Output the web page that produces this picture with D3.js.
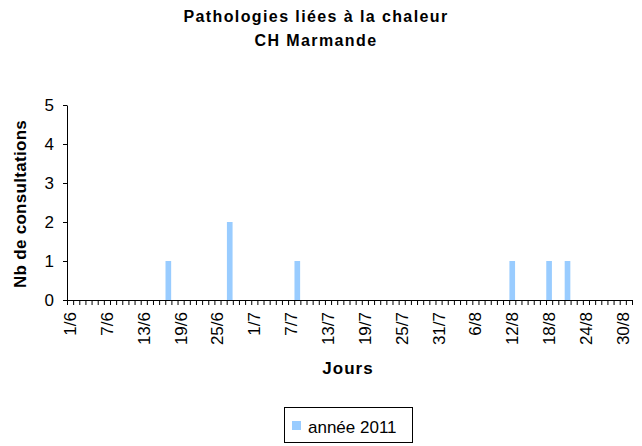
<!DOCTYPE html>
<html>
<head>
<meta charset="utf-8">
<script src="https://cdn.jsdelivr.net/npm/d3@7"></script>
<style>
  body { margin: 0; background: #fff; }
  text { font-family: Arial, "Liberation Sans", sans-serif; }
</style>
</head>
<body>
<div id="chart"></div>
<script>
var svgWidth = 642;
var svgHeight = 446;

var margin = { top: 105, right: 10, bottom: 146, left: 67 };
var chartWidth = 632 - margin.left;
var chartHeight = 300 - margin.top;

// days of the period : june, july, august
var monthNums = [6, 7, 8];
var monthLengths = [30, 31, 31];

var days = [];
monthNums.forEach(function(m, i) {
  for (var d = 1; d <= monthLengths[i]; d++) days.push(d + "/" + m);
});

// labelled ticks (one every 6 days)
var tickLabels = ["1/6", "7/6", "13/6", "19/6", "25/6", "1/7", "7/7", "13/7",
  "19/7", "25/7", "31/7", "6/8", "12/8", "18/8", "24/8", "30/8"];

// days with consultations, other days are 0
var caseDays = ["17/6", "27/6", "8/7", "12/8", "18/8", "21/8"];
var caseCounts = [1, 2, 1, 1, 1, 1];

var yTicks = [0, 1, 2, 3, 4, 5];

var svg = d3.select("#chart")
  .append("svg")
  .attr("width", svgWidth)
  .attr("height", svgHeight);

var chartGroup = svg.append("g")
  .attr("transform", `translate(${margin.left}, ${margin.top})`);

var x = d3.scaleBand()
  .domain(days)
  .range([0, chartWidth])
  .paddingInner(0.08)
  .paddingOuter(0.04);

// index scale, used for the small ticks between days
var xIdx = d3.scaleLinear()
  .domain([0, days.length])
  .range([0, chartWidth]);

var y = d3.scaleLinear()
  .domain([0, 5])
  .range([chartHeight, 0]);

// bars
chartGroup.selectAll("rect.bar")
  .data(caseDays)
  .enter()
  .append("rect")
  .attr("class", "bar")
  .attr("x", d => x(d))
  .attr("width", x.bandwidth())
  .attr("y", (d, i) => y(caseCounts[i]))
  .attr("height", (d, i) => y(0) - y(caseCounts[i]))
  .attr("fill", "#99ccff");

// y axis
var leftAxis = d3.axisLeft(y).tickValues(yTicks).tickFormat(d3.format("d"))
  .tickSize(4).tickSizeOuter(0).tickPadding(9);
var yAxis = chartGroup.append("g").call(leftAxis);
yAxis.select(".domain").attr("stroke", "#000");
yAxis.selectAll("text").style("font-size", "17px").attr("fill", "#000");

// x axis ticks between days
var tickAxis = d3.axisBottom(xIdx)
  .tickValues(d3.range(days.length + 1))
  .tickSize(5)
  .tickSizeOuter(0)
  .tickFormat("");
var xAxis = chartGroup.append("g")
  .attr("transform", `translate(0, ${chartHeight})`)
  .call(tickAxis);
xAxis.select(".domain").attr("stroke", "#000");
xAxis.selectAll(".tick line").attr("stroke", "#000");

// x labels, rotated
var labelAxis = d3.axisBottom(x).tickValues(tickLabels).tickSize(0).tickPadding(0);
var xLabels = chartGroup.append("g")
  .attr("transform", `translate(0, ${chartHeight})`)
  .call(labelAxis);
xLabels.select(".domain").remove();
xLabels.selectAll("text")
  .style("font-size", "17px")
  .attr("fill", "#000")
  .attr("text-anchor", "end")
  .attr("transform", "rotate(-90)")
  .attr("x", -12)
  .attr("y", 0)
  .attr("dy", "0.35em");

// title
svg.append("text")
  .attr("x", 316)
  .attr("y", 22)
  .attr("text-anchor", "middle")
  .style("font-size", "16px")
  .style("font-weight", "bold")
  .style("letter-spacing", "1.4px")
  .text("Pathologies liées à la chaleur");
svg.append("text")
  .attr("x", 316)
  .attr("y", 46)
  .attr("text-anchor", "middle")
  .style("font-size", "16px")
  .style("font-weight", "bold")
  .style("letter-spacing", "1.4px")
  .text("CH Marmande");

// axis titles
svg.append("text")
  .attr("x", 348)
  .attr("y", 374)
  .attr("text-anchor", "middle")
  .style("font-size", "17px")
  .style("font-weight", "bold")
  .style("letter-spacing", "1px")
  .text("Jours");

svg.append("text")
  .attr("transform", "rotate(-90)")
  .attr("x", -204)
  .attr("y", 26)
  .attr("text-anchor", "middle")
  .style("font-size", "17px")
  .style("font-weight", "bold")
  .style("letter-spacing", "0.3px")
  .text("Nb de consultations");

// legend
var legend = svg.append("g");
legend.append("rect")
  .attr("x", 284.5)
  .attr("y", 407.5)
  .attr("width", 128)
  .attr("height", 35)
  .attr("fill", "#fff")
  .attr("stroke", "#000");
legend.append("rect")
  .attr("x", 292)
  .attr("y", 421)
  .attr("width", 9)
  .attr("height", 9)
  .attr("fill", "#99ccff");
legend.append("text")
  .attr("x", 308)
  .attr("y", 433)
  .style("font-size", "17px")
  .text("année 2011");
</script>
</body>
</html>
